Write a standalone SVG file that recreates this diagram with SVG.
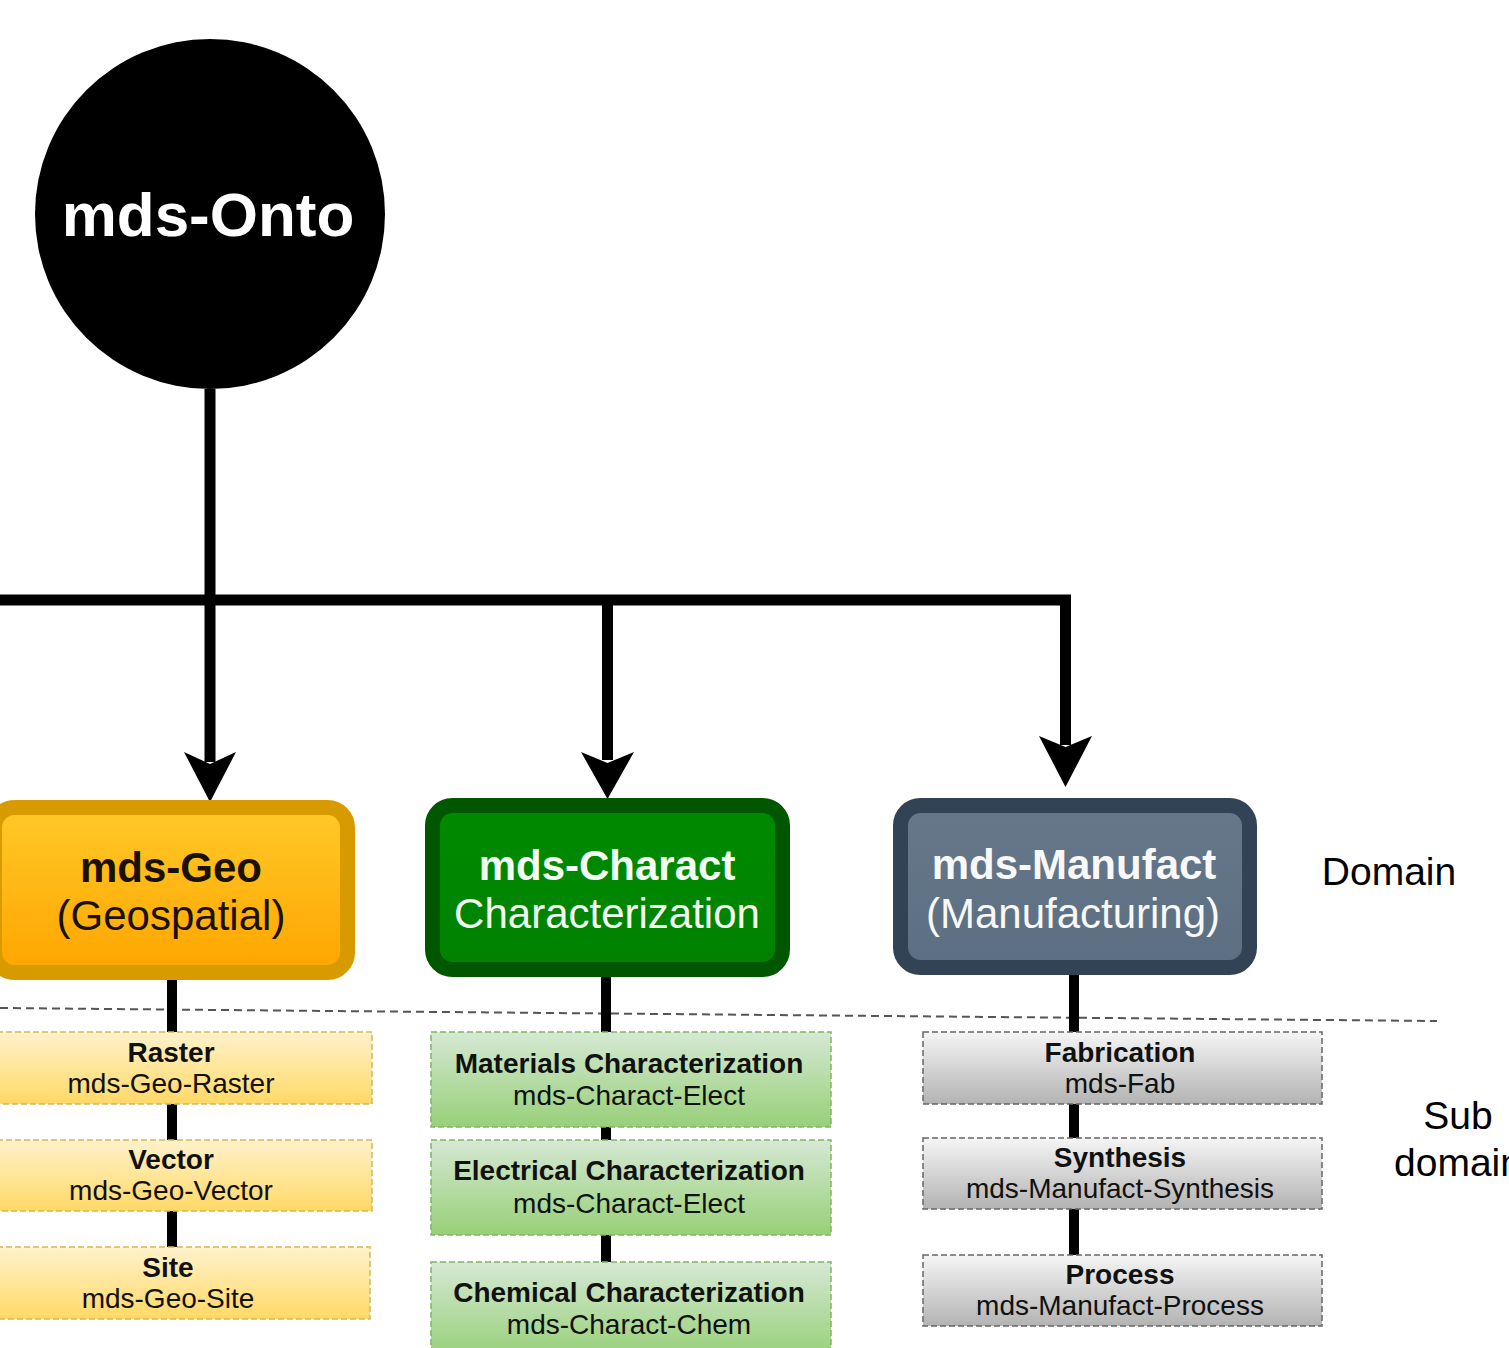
<svg xmlns="http://www.w3.org/2000/svg" width="1509" height="1348" viewBox="0 0 1509 1348">
<defs>
<linearGradient id="gGeo" x1="0" y1="0" x2="0" y2="1"><stop offset="0" stop-color="#ffc928"/><stop offset="1" stop-color="#ffa500"/></linearGradient>
<linearGradient id="gChar" x1="0" y1="0" x2="0" y2="1"><stop offset="0" stop-color="#008a00"/><stop offset="1" stop-color="#008200"/></linearGradient>
<linearGradient id="gMan" x1="0" y1="0" x2="0" y2="1"><stop offset="0" stop-color="#66788a"/><stop offset="1" stop-color="#5c6f82"/></linearGradient>
<linearGradient id="sGeo" x1="0" y1="0" x2="0" y2="1"><stop offset="0" stop-color="#fff2cc"/><stop offset="1" stop-color="#ffd966"/></linearGradient>
<linearGradient id="sChar" x1="0" y1="0" x2="0" y2="1"><stop offset="0" stop-color="#d5e8d4"/><stop offset="1" stop-color="#97d077"/></linearGradient>
<linearGradient id="sMan" x1="0" y1="0" x2="0" y2="1"><stop offset="0" stop-color="#f5f5f5"/><stop offset="1" stop-color="#b3b3b3"/></linearGradient>
</defs>
<style>
text{font-family:"Liberation Sans",Arial,sans-serif;text-anchor:middle}
.b{font-weight:bold}
.t42{font-size:42px}
.t28{font-size:28px}
.lbl{font-size:39px;fill:#000}
.wire{fill:none;stroke:#000;stroke-width:11;stroke-linejoin:miter}
.sub{fill:none;stroke:#000;stroke-width:10}
.head{fill:#000}
.sg{fill:url(#sGeo);stroke:#d6b656;stroke-width:1.5;stroke-dasharray:6 3}
.sc{fill:url(#sChar);stroke:#82b366;stroke-width:1.5;stroke-dasharray:6 3}
.sm{fill:url(#sMan);stroke:#666666;stroke-width:1.5;stroke-dasharray:6 3}
</style>
<rect x="0" y="0" width="1509" height="1348" fill="#ffffff"/>
<line id="separator" x1="0" y1="1008" x2="1437" y2="1021" stroke="#555555" stroke-width="2" stroke-dasharray="8 5"/>
<g id="connectors">
<path class="wire" d="M210,389 V762"/>
<path class="head" d="M210,802 L184,752 L210,764 L236,752 Z"/>
<path class="wire" d="M0,600 H1065.5 V745"/>
<path class="wire" d="M607.5,600 V760"/>
<path class="head" d="M607.5,799 L581,752 L607.5,763 L634,752 Z"/>
<path class="head" d="M1065.5,787 L1039,736 L1065.5,747 L1092,736 Z"/>
<path class="sub" d="M172,978 V1250"/>
<path class="sub" d="M606,975 V1265"/>
<path class="sub" d="M1074,973 V1258"/>
</g>
<g id="mds-Onto">
<circle cx="210" cy="214" r="175" fill="#000"/>
<text x="208" y="236" class="b" font-size="62" fill="#fff">mds-Onto</text>
</g>
<g id="mds-Geo">
<rect x="-5.5" y="807.5" width="353" height="165" rx="20" fill="url(#gGeo)" stroke="#d79b00" stroke-width="15"/>
<text x="171" y="882" class="b t42" fill="#1a1100">mds-Geo</text>
<text x="171" y="930" class="t42" fill="#1a1100">(Geospatial)</text>
</g>
<g id="mds-Charact">
<rect x="432.5" y="805.5" width="350" height="164" rx="20" fill="url(#gChar)" stroke="#005700" stroke-width="15"/>
<text x="607" y="880" class="b t42" fill="#f2fff2">mds-Charact</text>
<text x="607" y="928" class="t42" fill="#f2fff2">Characterization</text>
</g>
<g id="mds-Manufact">
<rect x="900.5" y="805.5" width="349" height="162" rx="20" fill="url(#gMan)" stroke="#314354" stroke-width="15"/>
<text x="1074" y="879" class="b t42" fill="#f8f8f8">mds-Manufact</text>
<text x="1073" y="928" class="t42" fill="#f8f8f8">(Manufacturing)</text>
</g>
<g id="raster">
<rect class="sg" x="-30" y="1032" width="402" height="72"/>
<text x="171" y="1062" class="b t28" fill="#111">Raster</text>
<text x="171" y="1093" class="t28" fill="#111">mds-Geo-Raster</text>
</g>
<g id="vector">
<rect class="sg" x="-30" y="1140" width="402" height="71"/>
<text x="171" y="1169" class="b t28" fill="#111">Vector</text>
<text x="171" y="1200" class="t28" fill="#111">mds-Geo-Vector</text>
</g>
<g id="site">
<rect class="sg" x="-30" y="1247" width="400" height="72"/>
<text x="168" y="1277" class="b t28" fill="#111">Site</text>
<text x="168" y="1308" class="t28" fill="#111">mds-Geo-Site</text>
</g>
<g id="materials">
<rect class="sc" x="431" y="1032" width="400" height="95"/>
<text x="629" y="1073" class="b t28" fill="#111">Materials Characterization</text>
<text x="629" y="1105" class="t28" fill="#111">mds-Charact-Elect</text>
</g>
<g id="electrical">
<rect class="sc" x="431" y="1140" width="400" height="95"/>
<text x="629" y="1180" class="b t28" fill="#111">Electrical Characterization</text>
<text x="629" y="1213" class="t28" fill="#111">mds-Charact-Elect</text>
</g>
<g id="chemical">
<rect class="sc" x="431" y="1262" width="400" height="96"/>
<text x="629" y="1302" class="b t28" fill="#111">Chemical Characterization</text>
<text x="629" y="1334" class="t28" fill="#111">mds-Charact-Chem</text>
</g>
<g id="fabrication">
<rect class="sm" x="923" y="1032" width="399" height="72"/>
<text x="1120" y="1062" class="b t28" fill="#111">Fabrication</text>
<text x="1120" y="1093" class="t28" fill="#111">mds-Fab</text>
</g>
<g id="synthesis">
<rect class="sm" x="923" y="1138" width="399" height="71"/>
<text x="1120" y="1167" class="b t28" fill="#111">Synthesis</text>
<text x="1120" y="1198" class="t28" fill="#111">mds-Manufact-Synthesis</text>
</g>
<g id="process">
<rect class="sm" x="923" y="1255" width="399" height="71"/>
<text x="1120" y="1284" class="b t28" fill="#111">Process</text>
<text x="1120" y="1315" class="t28" fill="#111">mds-Manufact-Process</text>
</g>
<g id="labels">
<text x="1389" y="885" class="lbl">Domain</text>
<text x="1458" y="1129" class="lbl">Sub</text>
<text x="1458" y="1176" class="lbl">domain</text>
</g>
</svg>
